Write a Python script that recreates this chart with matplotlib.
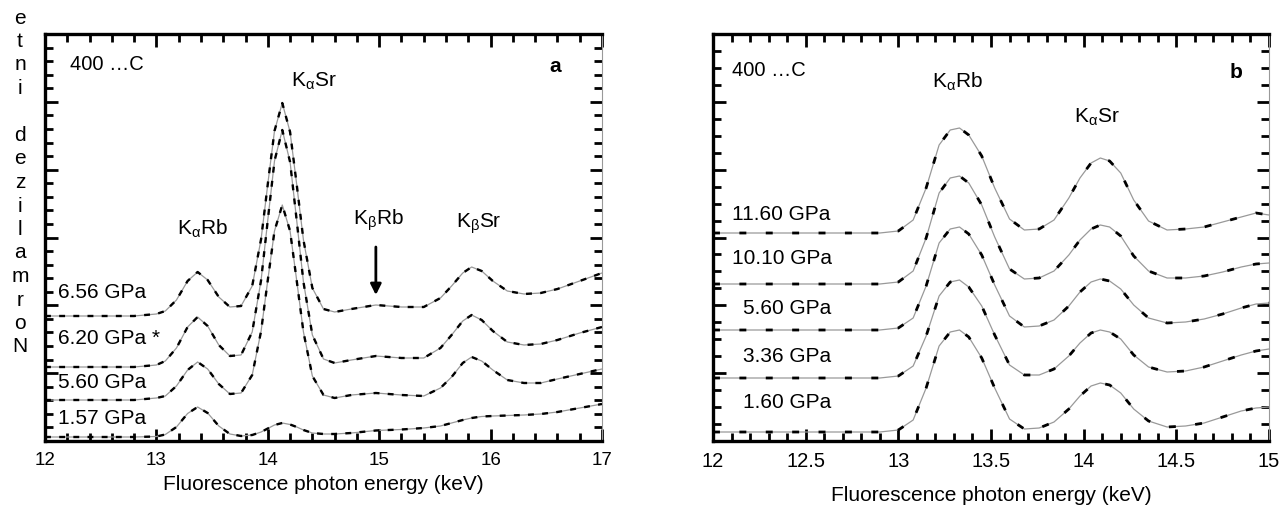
import matplotlib
matplotlib.use("Agg")
import matplotlib.pyplot as plt
from matplotlib.ticker import MultipleLocator

plt.rcParams['font.family'] = ['Liberation Sans', 'DejaVu Sans']
plt.rcParams['mathtext.fontset'] = 'custom'
plt.rcParams['mathtext.rm'] = 'Liberation Sans'
plt.rcParams['mathtext.it'] = 'Liberation Sans:italic'

# ---- panel a data (energy in keV, intensity in arbitrary stacked units) ----
energy_a = [12.0, 12.4, 12.8, 13.0, 13.08, 13.18, 13.28, 13.37, 13.46, 13.56,
            13.66, 13.76, 13.86, 13.94, 14.0, 14.06, 14.13, 14.2, 14.26, 14.32,
            14.4, 14.5, 14.6, 14.75, 14.97, 15.2, 15.4, 15.55, 15.65, 15.75,
            15.83, 15.92, 16.02, 16.15, 16.3, 16.45, 16.6, 16.8, 17.0]
a_656 = [125, 125, 125, 127, 130, 141, 160, 169, 161, 144,
         134, 135, 155, 202, 257, 310, 338, 309, 256, 201,
         153, 132, 129, 132, 136, 134, 134, 143, 155, 168,
         174, 170, 160, 150, 147, 148, 152, 160, 168]
a_620 = [74, 74, 74, 76, 80, 93, 114, 124, 115, 96,
         85, 86, 109, 161, 221, 280, 311, 279, 220, 159,
         106, 82, 78, 81, 85, 83, 83, 93, 106, 120,
         126, 121, 110, 99, 96, 97, 101, 108, 114]
a_560 = [41, 41, 41, 43, 45, 55, 71, 79, 72, 57,
         47, 48, 66, 110, 161, 210, 236, 210, 160, 109,
         65, 46, 43, 46, 48, 46, 45, 53, 64, 78,
         84, 80, 71, 61, 58, 58, 62, 67, 72]
a_157 = [4, 4, 4, 4.5, 6.5, 14, 27.5, 34, 28, 15,
         7, 5, 6, 9, 12.5, 16, 18, 16.5, 14, 11,
         8, 7, 7, 8, 10.5, 11.5, 13, 15, 18, 21,
         23, 24.5, 25, 25.5, 26, 27, 29, 33, 37]
series_a = [a_656, a_620, a_560, a_157]
labels_a = ['6.56 GPa', '6.20 GPa *', '5.60 GPa', '1.57 GPa']
label_h_a = [149, 103, 58, 23]

# ---- panel b data ----
energy_b = [12.0, 12.4, 12.8, 12.9, 13.0, 13.08, 13.15, 13.22, 13.28, 13.33,
            13.38, 13.45, 13.52, 13.6, 13.68, 13.76, 13.84, 13.92, 13.98, 14.04,
            14.09, 14.14, 14.2, 14.27, 14.35, 14.45, 14.55, 14.65, 14.75, 14.85,
            14.93, 15.0]
b_1160 = [208, 208, 208, 208, 210, 221, 253, 296, 311, 313,
          306, 285, 253, 222, 211, 212, 221, 243, 263, 278,
          283, 280, 268, 241, 220, 211, 212, 214, 219, 224,
          228, 226]
b_1010 = [157, 157, 157, 157, 159, 170, 203, 248, 263, 265,
          258, 236, 204, 172, 162, 163, 170, 186, 201, 212,
          216, 214, 205, 185, 170, 163, 163, 165, 169, 174,
          177, 178]
b_560 = [111, 111, 111, 111, 113, 123, 155, 198, 212, 214,
         207, 186, 156, 125, 114, 115, 121, 135, 149, 159,
         162, 160, 152, 136, 123, 118, 119, 122, 127, 133,
         137, 138]
b_336 = [63, 63, 63, 63, 65, 75, 105, 145, 159, 161,
         154, 135, 106, 76, 66, 66, 72, 85, 98, 108,
         111, 109, 102, 86, 74, 69, 70, 74, 80, 86,
         90, 92]
b_160 = [9, 9, 9, 9, 11, 21, 53, 95, 109, 111,
         104, 83, 53, 22, 12, 13, 19, 32, 45, 55,
         58, 56, 48, 32, 20, 14, 15, 18, 24, 30,
         33, 34]
series_b = [b_1160, b_1010, b_560, b_336, b_160]
labels_b = ['11.60 GPa', '10.10 GPa', '5.60 GPa', '3.36 GPa', '1.60 GPa']
label_h_b = [226, 183, 132, 84, 38]

fig = plt.figure(figsize=(12.85, 5.07), dpi=100)
ax_a = fig.add_axes([45 / 1285, 66 / 507, 557 / 1285, 407 / 507])
ax_b = fig.add_axes([713 / 1285, 66 / 507, 556 / 1285, 407 / 507])


def style_axes(ax, xlo, xhi, major, minor, yminor, ticklabels, labelsize):
    ax.set_xlim(xlo, xhi)
    ax.set_ylim(0, 407)
    ax.xaxis.set_major_locator(MultipleLocator(major))
    ax.xaxis.set_minor_locator(MultipleLocator(minor))
    ax.yaxis.set_major_locator(MultipleLocator(407 / 6))
    ax.yaxis.set_minor_locator(MultipleLocator(yminor))
    ax.set_yticklabels([])
    ax.set_xticks([xlo + i * major for i in range(len(ticklabels))])
    ax.set_xticklabels(ticklabels)
    ax.tick_params(which='both', direction='in', top=True, right=True,
                   width=2, color='black', labelsize=labelsize, pad=8)
    ax.tick_params(which='major', length=9)
    ax.tick_params(which='minor', length=5.5)
    for s in ['left', 'top', 'bottom']:
        ax.spines[s].set_linewidth(2.4)
    ax.spines['right'].set_linewidth(0.8)
    ax.spines['right'].set_color('#999999')


def draw_curves(ax, x, series, dash, lw):
    for y in series:
        ax.plot(x, y, color='#999999', lw=0.9, zorder=2)
        ax.plot(x, y, color='black', lw=lw, linestyle=dash, zorder=3)


# panel a
draw_curves(ax_a, energy_a, series_a, (0, (2.5, 3.5)), 1.7)
style_axes(ax_a, 12, 17, 1, 0.2, 407 / 30, ['12', '13', '14', '15', '16', '17'], 13.5)
ax_a.set_xlabel('Fluorescence photon energy (keV)', fontsize=15, labelpad=4)
for lab, h in zip(labels_a, label_h_a):
    ax_a.text(12.12, h, lab, fontsize=15, va='center', ha='left')
ax_a.text(12.22, 376, '400 …C', fontsize=14.5, va='center', ha='left')
ax_a.text(16.58, 374, 'a', fontsize=15, fontweight='bold', va='center', ha='center')
ax_a.text(14.41, 354, r'K$_{\mathrm{\alpha}}$Sr', fontsize=15, ha='center', va='baseline')
ax_a.text(13.41, 206, r'K$_{\mathrm{\alpha}}$Rb', fontsize=15, ha='center', va='baseline')
ax_a.text(14.99, 216, r'K$_{\mathrm{\beta}}$Rb', fontsize=15, ha='center', va='baseline')
ax_a.text(15.89, 213, r'K$_{\mathrm{\beta}}$Sr', fontsize=15, ha='center', va='baseline')
ax_a.annotate('', xy=(14.97, 146), xytext=(14.97, 194),
              arrowprops=dict(arrowstyle='-|>', lw=2, color='black',
                              mutation_scale=16, shrinkA=0, shrinkB=0))

# panel b
draw_curves(ax_b, energy_b, series_b, (0, (2.5, 7.0)), 2.0)
style_axes(ax_b, 12, 15, 0.5, 0.1, 407 / 24,
           ['12', '12.5', '13', '13.5', '14', '14.5', '15'], 14.5)
ax_b.set_xlabel('Fluorescence photon energy (keV)', fontsize=15, labelpad=11)
for i, (lab, h) in enumerate(zip(labels_b, label_h_b)):
    ax_b.text(12.10 if i < 2 else 12.16, h, lab, fontsize=15, va='center', ha='left')
ax_b.text(12.10, 371, '400 …C', fontsize=14.5, va='center', ha='left')
ax_b.text(14.82, 368, 'b', fontsize=15, fontweight='bold', va='center', ha='center')
ax_b.text(13.32, 353, r'K$_{\mathrm{\alpha}}$Rb', fontsize=15, ha='center', va='baseline')
ax_b.text(14.07, 318, r'K$_{\mathrm{\alpha}}$Sr', fontsize=15, ha='center', va='baseline')

# stacked, reversed y label as in the original scan
ylab_letters = list('etni dezilamroN')
for i, ch in enumerate(ylab_letters):
    fig.text(20 / 1285, 1 - (18 + i * 23.5) / 507, ch, fontsize=15,
             ha='center', va='center')

fig.savefig('out.png', dpi=100)
